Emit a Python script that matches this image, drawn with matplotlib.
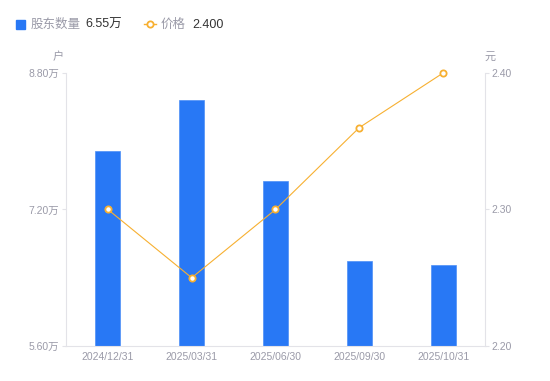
import numpy as np
import matplotlib.pyplot as plt
from matplotlib.lines import Line2D
from matplotlib.patches import Rectangle

plt.rcParams['font.family'] = ['Liberation Sans', 'Noto Sans CJK SC', 'DejaVu Sans']

# data
dates = ['2024/12/31', '2025/03/31', '2025/06/30', '2025/09/30', '2025/10/31']
holders = [7.89, 8.48, 7.53, 6.60, 6.55]   # 万户
price = [2.30, 2.25, 2.30, 2.36, 2.40]     # 元
left_ticks = [5.60, 7.20, 8.80]
right_ticks = [2.20, 2.30, 2.40]

blue = '#2878f5'
orange = '#f7b031'
grey_txt = '#9a9aa8'
axis_col = '#e3e3e8'

fig = plt.figure(figsize=(5.5, 3.81), dpi=100)
ax = fig.add_axes([0.12, 0.0919, 0.7618, 0.7165])
ax2 = ax.twinx()

x = np.arange(len(dates))
ax.bar(x, holders, width=0.3, color=blue, edgecolor='#4d8ff7', linewidth=0.5, zorder=2)
ax.set_ylim(5.60, 8.80)
ax.set_xlim(-0.5, len(dates) - 0.5)
ax.set_yticks(left_ticks)
ax.set_yticklabels([f'{v:.2f}万' for v in left_ticks])
ax.set_xticks(x)
ax.set_xticklabels(dates)

ax2.plot(x, price, color=orange, linewidth=0.8, marker='o', markersize=4.5,
         markerfacecolor='white', markeredgecolor=orange, markeredgewidth=1.3,
         zorder=3, clip_on=False)
ax2.set_ylim(2.20, 2.40)
ax2.set_yticks(right_ticks)
ax2.set_yticklabels([f'{v:.2f}' for v in right_ticks])

for a in (ax, ax2):
    for s in a.spines.values():
        s.set_visible(False)
    a.tick_params(colors=axis_col, labelcolor=grey_txt, labelsize=7.5, length=3, width=0.8)
ax.spines['left'].set_visible(True)
ax.spines['left'].set_color(axis_col)
ax.spines['bottom'].set_visible(True)
ax.spines['bottom'].set_color(axis_col)
ax2.spines['right'].set_visible(True)
ax2.spines['right'].set_color(axis_col)
ax.tick_params(axis='x', length=0, pad=4)
ax.tick_params(axis='y', pad=2)
ax2.tick_params(axis='y', pad=2)

# axis units
fig.text(58 / 550, 1 - 57 / 381, '户', color=grey_txt, fontsize=8, ha='center', va='center')
fig.text(490 / 550, 1 - 57 / 381, '元', color=grey_txt, fontsize=8, ha='center', va='center')

# legend, drawn by hand
fig.patches.append(Rectangle((16 / 550, 1 - 29 / 381), 9 / 550, 9 / 381,
                             transform=fig.transFigure, color=blue, figure=fig))
fig.text(31 / 550, 1 - 25 / 381, '股东数量', color=grey_txt, fontsize=9, va='center')
fig.text(85 / 550, 1 - 25 / 381, f'{holders[-1]:.2f}万', color='#333333', fontsize=9, va='center')
fig.lines.append(Line2D([144 / 550, 156 / 550], [1 - 24 / 381] * 2, transform=fig.transFigure,
                        color=orange, linewidth=1, figure=fig))
fig.lines.append(Line2D([150 / 550], [1 - 24 / 381], transform=fig.transFigure,
                        color=orange, marker='o', markersize=4.5, markerfacecolor='white',
                        markeredgewidth=1.3, figure=fig))
fig.text(161 / 550, 1 - 25 / 381, '价格', color=grey_txt, fontsize=9, va='center')
fig.text(192 / 550, 1 - 25 / 381, f'{price[-1]:.3f}', color='#333333', fontsize=9, va='center')

fig.savefig('out.png', dpi=100)
